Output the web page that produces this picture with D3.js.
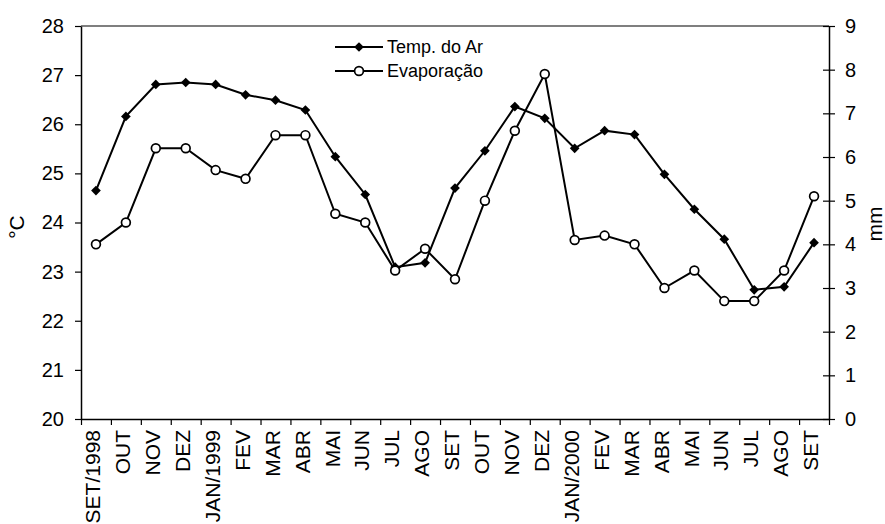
<!DOCTYPE html>
<html>
<head>
<meta charset="utf-8">
<script src="https://cdn.jsdelivr.net/npm/d3@7"></script>
<style>
  body { margin: 0; background: #fff; }
  #chart { width: 885px; height: 524px; }
  text { font-family: "Liberation Sans", Arial, sans-serif; fill: #000; }
</style>
</head>
<body>
<div id="chart"></div>
<script>
// -------------------------------
// Data
// -------------------------------
const months = ["SET/1998", "OUT", "NOV", "DEZ", "JAN/1999", "FEV", "MAR", "ABR", "MAI", "JUN", "JUL", "AGO",
  "SET", "OUT", "NOV", "DEZ", "JAN/2000", "FEV", "MAR", "ABR", "MAI", "JUN", "JUL", "AGO", "SET"];

const tempAr = [24.65, 26.16, 26.81, 26.85, 26.81, 26.60, 26.49, 26.29, 25.34, 24.57, 23.09, 23.18,
  24.70, 25.46, 26.36, 26.12, 25.51, 25.87, 25.79, 24.98, 24.27, 23.66, 22.63, 22.69, 23.59];

const evaporacao = [4.0, 4.5, 6.2, 6.2, 5.7, 5.5, 6.5, 6.5, 4.7, 4.5, 3.4, 3.9,
  3.2, 5.0, 6.6, 7.9, 4.1, 4.2, 4.0, 3.0, 3.4, 2.7, 2.7, 3.4, 5.1];

const tempTicks = [20, 21, 22, 23, 24, 25, 26, 27, 28];
const mmTicks = [0, 1, 2, 3, 4, 5, 6, 7, 8, 9];
const legendLabels = ["Temp. do Ar", "Evaporação"];

// -------------------------------
// Layout
// -------------------------------
const width = 885, height = 524;
const plot = { left: 81, right: 829, top: 26, bottom: 419 };

const svg = d3.select("#chart").append("svg")
  .attr("width", width)
  .attr("height", height);

// -------------------------------
// Scales
// -------------------------------
const xBand = d3.scaleBand()
  .domain(d3.range(months.length))
  .range([plot.left, plot.right])
  .padding(0);
const xCenter = i => xBand(i) + xBand.bandwidth() / 2;

// boundary scale for the category tick marks
const xEdges = d3.scaleLinear()
  .domain([0, months.length])
  .range([plot.left, plot.right]);

const yTemp = d3.scaleLinear().domain([20, 28]).range([plot.bottom, plot.top]);
const yMm = d3.scaleLinear().domain([0, 9]).range([plot.bottom, plot.top]);

// -------------------------------
// Axes
// -------------------------------
// top border of plot area
svg.append("line")
  .attr("x1", plot.left).attr("x2", plot.right)
  .attr("y1", plot.top).attr("y2", plot.top)
  .attr("stroke", "#555").attr("stroke-width", 1.3);

const leftAxis = svg.append("g")
  .attr("transform", `translate(${plot.left},0)`)
  .call(d3.axisLeft(yTemp).tickValues(tempTicks).tickSize(6).tickSizeOuter(0).tickPadding(11));

const rightAxis = svg.append("g")
  .attr("transform", `translate(${plot.right},0)`)
  .call(d3.axisRight(yMm).tickValues(mmTicks).tickSize(6).tickSizeOuter(0).tickPadding(10));
rightAxis.selectAll(".tick line").attr("x1", -6);

const bottomAxis = svg.append("g")
  .attr("transform", `translate(0,${plot.bottom})`)
  .call(d3.axisBottom(xEdges).tickValues(d3.range(months.length + 1)).tickSize(6).tickSizeOuter(0).tickFormat(""));

[leftAxis, rightAxis, bottomAxis].forEach(ax => {
  ax.select(".domain").attr("stroke", "#000").attr("stroke-width", 1.5);
  ax.selectAll(".tick line").attr("stroke", "#000").attr("stroke-width", 1.2);
  ax.selectAll(".tick text").style("font-size", "20px").attr("fill", "#000");
});

// category labels, rotated
svg.append("g")
  .selectAll("text")
  .data(months)
  .join("text")
  .attr("transform", (d, i) => `translate(${xCenter(i)},430) rotate(-90)`)
  .attr("text-anchor", "end")
  .attr("dy", "0.2em")
  .style("font-size", "21px")
  .text(d => d);

// axis titles
svg.append("text")
  .attr("transform", "translate(24,227) rotate(-90)")
  .attr("text-anchor", "middle")
  .style("font-size", "21px")
  .text("°C");

svg.append("text")
  .attr("transform", "translate(882,224) rotate(-90)")
  .attr("text-anchor", "middle")
  .style("font-size", "21px")
  .text("mm");

// -------------------------------
// Lines
// -------------------------------
const tempLine = d3.line().x((d, i) => xCenter(i)).y(d => yTemp(d));
const mmLine = d3.line().x((d, i) => xCenter(i)).y(d => yMm(d));

svg.append("path")
  .datum(evaporacao)
  .attr("d", mmLine)
  .attr("fill", "none").attr("stroke", "#000").attr("stroke-width", 2);

svg.append("path")
  .datum(tempAr)
  .attr("d", tempLine)
  .attr("fill", "none").attr("stroke", "#000").attr("stroke-width", 2);

const diamond = d3.symbol().type(d3.symbolDiamond2).size(60);

svg.append("g")
  .selectAll("path")
  .data(tempAr)
  .join("path")
  .attr("transform", (d, i) => `translate(${xCenter(i)},${yTemp(d)})`)
  .attr("d", diamond)
  .attr("fill", "#000");

svg.append("g")
  .selectAll("circle")
  .data(evaporacao)
  .join("circle")
  .attr("cx", (d, i) => xCenter(i))
  .attr("cy", d => yMm(d))
  .attr("r", 4.4)
  .attr("fill", "#fff")
  .attr("stroke", "#000")
  .attr("stroke-width", 1.7);

// -------------------------------
// Legend
// -------------------------------
const legend = svg.append("g");
const legendY = [47, 71];

legendLabels.forEach((label, i) => {
  legend.append("line")
    .attr("x1", 335).attr("x2", 383)
    .attr("y1", legendY[i]).attr("y2", legendY[i])
    .attr("stroke", "#000").attr("stroke-width", 2);
  if (i === 0) {
    legend.append("path")
      .attr("transform", `translate(359,${legendY[i]})`)
      .attr("d", diamond)
      .attr("fill", "#000");
  } else {
    legend.append("circle")
      .attr("cx", 359).attr("cy", legendY[i]).attr("r", 4.4)
      .attr("fill", "#fff").attr("stroke", "#000").attr("stroke-width", 1.7);
  }
  legend.append("text")
    .attr("x", 387).attr("y", legendY[i])
    .attr("dy", "0.35em")
    .style("font-size", "18px")
    .text(label);
});
</script>
</body>
</html>
